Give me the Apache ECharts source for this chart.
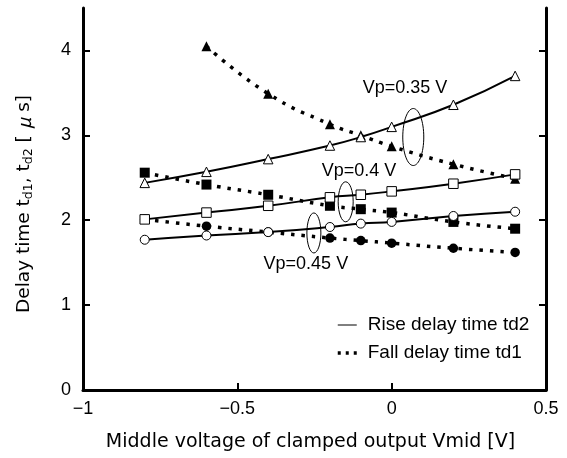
<!DOCTYPE html>
<html>
<head>
<meta charset="utf-8">
<script src="https://cdn.jsdelivr.net/npm/echarts@6/dist/echarts.min.js"></script>
<style>
  html, body { margin: 0; padding: 0; background: #fff; }
  #chart { width: 567px; height: 458px; }
</style>
</head>
<body>
<div id="chart"></div>
<script>
// Middle voltage of the clamped output, Vmid [V]
const xVmid = [-0.8, -0.6, -0.4, -0.2, -0.1, 0, 0.2, 0.4];
const xFall035 = [-0.6, -0.4, -0.2, -0.1, 0, 0.2, 0.4];

// Rise delay time td2 [us] for each Vp
const rise035 = [2.44, 2.57, 2.72, 2.88, 2.98, 3.10, 3.36, 3.70];
const rise040 = [2.01, 2.09, 2.17, 2.27, 2.30, 2.34, 2.43, 2.54];
const rise045 = [1.77, 1.82, 1.86, 1.92, 1.96, 1.98, 2.05, 2.10];

// Fall delay time td1 [us] for each Vp
const fall035 = [4.05, 3.49, 3.13, 3.00, 2.87, 2.66, 2.49];
const fall040 = [2.56, 2.42, 2.30, 2.17, 2.13, 2.09, 1.98, 1.90];
const fall045 = [2.01, 1.93, 1.86, 1.79, 1.76, 1.73, 1.67, 1.62];

// Axis ticks
const xTickValues = [-1, -0.5, 0, 0.5];
const xTickLabels = ['\u22121', '\u22120.5', '0', '0.5'];
const yTickValues = [0, 1, 2, 3, 4];
const yTickLabels = ['0', '1', '2', '3', '4'];

// Vp call-outs: label text, label anchor and ellipse centre in data units
const vpLabels = ['Vp=0.35 V', 'Vp=0.4 V', 'Vp=0.45 V'];
const vpLabelAt = [[0.043, 3.56], [-0.106, 2.574], [-0.278, 1.486]];
const vpEllipseAt = [[0.07, 2.98], [-0.149, 2.217], [-0.252, 1.85]];
const vpEllipseR = [[10.5, 28.5], [7.5, 20], [7, 20]];

const legendNames = ['Rise delay time td2', 'Fall delay time td1'];

const FONT = '"Liberation Sans", Arial, sans-serif';
const TITLE_FONT = '"DejaVu Sans", sans-serif';
const pairs = (xs, ys) => xs.map((x, i) => [x, ys[i]]);

const fallLine = { color: '#000', width: 3.5, type: [3.5, 7], cap: 'butt' };
const riseLine = { color: '#000', width: 2 };

function fallSeries(name, xs, ys, symbol, size) {
  return {
    name: name, type: 'line', smooth: true, z: 2,
    data: pairs(xs, ys), symbol: symbol, symbolSize: size,
    itemStyle: { color: '#000' }, lineStyle: fallLine
  };
}
function riseSeries(name, xs, ys, symbol, size) {
  return {
    name: name, type: 'line', smooth: true, z: 3,
    data: pairs(xs, ys), symbol: symbol, symbolSize: size,
    itemStyle: { color: '#fff', borderColor: '#000', borderWidth: 1 },
    lineStyle: riseLine
  };
}

const chart = echarts.init(document.getElementById('chart'), null, { renderer: 'canvas' });

const axisLineStyle = { color: '#000', width: 3 };
const tickStyle = { color: '#000', width: 2 };

chart.setOption({
  animation: false,
  backgroundColor: '#fff',
  grid: { left: 83, right: 21, top: 8, bottom: 68, outerBoundsMode: 'none' },
  textStyle: { fontFamily: FONT },
  legend: {
    data: [
      { name: legendNames[0], lineStyle: { color: '#000', width: 1, type: 'solid' } },
      { name: legendNames[1], lineStyle: { color: '#000', width: 3.5, type: [3, 5], cap: 'butt' } }
    ],
    orient: 'vertical', left: 331, top: 310,
    itemWidth: 19, itemHeight: 14, itemGap: 8,
    itemStyle: { opacity: 0 },
    textStyle: { fontFamily: FONT, fontSize: 19, color: '#000', lineHeight: 20, padding: [0, 0, 0, 6] }
  },
  xAxis: {
    type: 'value', min: -1, max: 0.5, interval: 0.5,
    axisLine: { lineStyle: axisLineStyle },
    axisTick: { inside: true, length: 7, lineStyle: tickStyle },
    splitLine: { show: false },
    axisLabel: {
      color: '#000', fontFamily: FONT, fontSize: 18, margin: 10,
      formatter: v => { const i = xTickValues.indexOf(v); return i >= 0 ? xTickLabels[i] : ''; }
    },
    name: 'Middle voltage of clamped output Vmid [V]',
    nameLocation: 'middle', nameGap: 43,
    nameTextStyle: { color: '#000', fontFamily: TITLE_FONT, fontSize: 19, padding: [0, 8, 0, 0] }
  },
  yAxis: [
    {
      type: 'value', min: 0, max: 4.5, interval: 1, position: 'left',
      axisLine: { show: true, onZero: false, lineStyle: axisLineStyle },
      axisTick: { show: true, inside: true, length: 7, lineStyle: tickStyle, customValues: yTickValues },
      splitLine: { show: false },
      axisLabel: {
        color: '#000', fontFamily: FONT, fontSize: 18, margin: 12, customValues: yTickValues,
        formatter: v => { const i = yTickValues.indexOf(v); return i >= 0 ? yTickLabels[i] : ''; }
      },
      name: '{n|Delay time t}{s|d1}{n|, t}{s|d2}{n| [ }{mu|\u03bc}{n| s]}',
      nameLocation: 'middle', nameRotate: 90, nameGap: 48,
      nameTextStyle: {
        color: '#000', fontFamily: TITLE_FONT, padding: [0, 10, 0, 0],
        rich: {
          n: { fontSize: 18.5, lineHeight: 22, verticalAlign: 'middle', color: '#000', fontFamily: TITLE_FONT },
          s: { fontSize: 12.5, lineHeight: 12, verticalAlign: 'bottom', color: '#000', fontFamily: TITLE_FONT },
          mu: { fontSize: 18.5, lineHeight: 22, fontStyle: 'italic', verticalAlign: 'middle', color: '#000', fontFamily: '"Noto Sans CJK JP", sans-serif' }
        }
      }
    },
    {
      type: 'value', min: 0, max: 4.5, interval: 1, position: 'right',
      axisLine: { show: true, onZero: false, lineStyle: axisLineStyle },
      axisTick: { show: true, inside: true, length: 7, lineStyle: tickStyle, customValues: yTickValues },
      axisLabel: { show: false },
      splitLine: { show: false }
    }
  ],
  series: [
    fallSeries('fall035', xFall035, fall035, 'triangle', 10),
    fallSeries('fall040', xVmid, fall040, 'rect', 10),
    fallSeries('fall045', xVmid, fall045, 'circle', 9.5),
    riseSeries('rise035', xVmid, rise035, 'triangle', 9.5),
    riseSeries('rise040', xVmid, rise040, 'rect', 9.5),
    riseSeries('rise045', xVmid, rise045, 'circle', 9),
    { name: legendNames[0], type: 'line', data: [], symbol: 'none', lineStyle: riseLine },
    { name: legendNames[1], type: 'line', data: [], symbol: 'none', lineStyle: fallLine }
  ]
});

// Vp call-outs placed in data coordinates
const elements = [];
vpLabels.forEach((txt, i) => {
  const e = chart.convertToPixel({ gridIndex: 0 }, vpEllipseAt[i]);
  elements.push({
    type: 'ellipse', z: 10,
    shape: { cx: e[0], cy: e[1], rx: vpEllipseR[i][0], ry: vpEllipseR[i][1] },
    style: { fill: 'none', stroke: '#000', lineWidth: 1 }
  });
  const p = chart.convertToPixel({ gridIndex: 0 }, vpLabelAt[i]);
  elements.push({
    type: 'text', z: 10, x: p[0], y: p[1],
    style: { text: txt, fill: '#000', font: '18px ' + FONT, align: 'center', verticalAlign: 'middle' }
  });
});
chart.setOption({ graphic: { elements: elements } });
</script>
</body>
</html>
